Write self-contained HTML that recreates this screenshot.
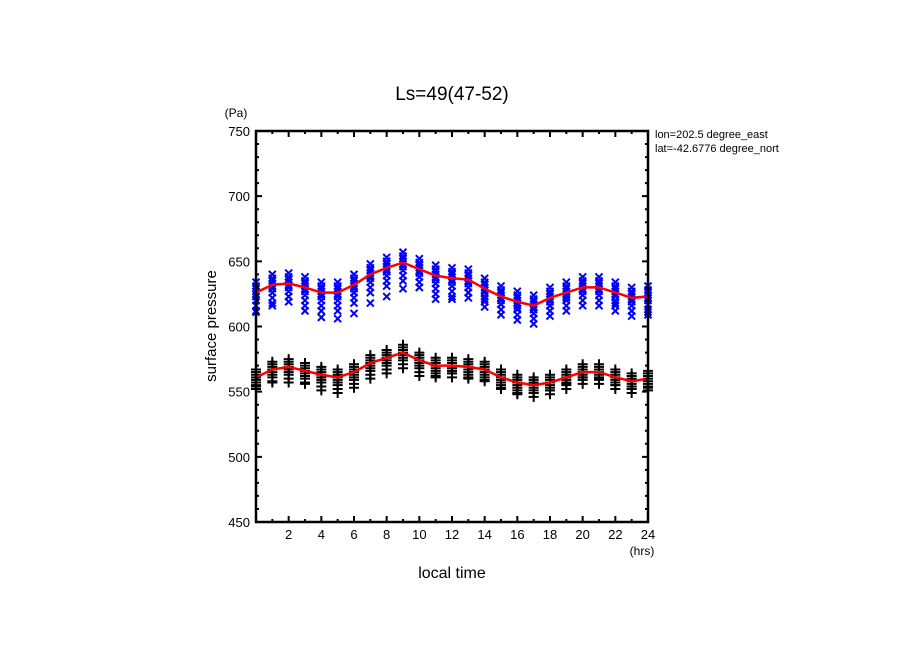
<!DOCTYPE html>
<html><head><meta charset="utf-8"><style>
body{margin:0;background:#fff;}
svg{display:block;font-family:"Liberation Sans",sans-serif;}
</style></head><body>
<svg id="chart" width="904" height="654" viewBox="0 0 904 654">
<defs><clipPath id="annclip"><rect x="650" y="120" width="129" height="40"/></clipPath></defs>
<rect width="904" height="654" fill="#fff"/>
<text x="452" y="100" text-anchor="middle" font-size="19">Ls=49(47-52)</text>
<text x="236" y="117" text-anchor="middle" font-size="12">(Pa)</text>
<text x="642" y="555" text-anchor="middle" font-size="12">(hrs)</text>
<text x="452" y="578" text-anchor="middle" font-size="16">local time</text>
<text transform="translate(216,326) rotate(-90)" text-anchor="middle" font-size="15">surface pressure</text>
<g clip-path="url(#annclip)">
<text x="655" y="138" font-size="11">lon=202.5 degree_east</text>
<text x="655" y="152" font-size="11">lat=-42.6776 degree_north</text>
</g>
<g id="marks"></g>
<g id="axes"></g>
</svg>
<script>
const hours=[0,1,2,3,4,5,6,7,8,9,10,11,12,13,14,15,16,17,18,19,20,21,22,23,24];
const blueMean=[626,632,633,630,626,626,632,640,645,649,644,639,637,636,629,623,619,616,622,626,630,630,626,622,623];
const blackMean=[561,567,569,566,563,561,565,572,576,580,574,570,570,569,567,561,557,555,557,561,565,565,561,558,560];
const blueOffsets=[8,5,3,1,-1,-3,-6,-10,-14];
const blackOffsets=[6,4,2,0,-2,-4,-6,-9];
const blueOutlier=[-15,-16,-10,-18,-19,-20,-22,-22,-22,-20,-14,-18,-16,-10,-8,-6,-5,-6,-6,-4,-6,-6,-8,-10,-12];
const blackOutlier=[-7,-10,-12,-10,-12,-12,-12,-12,-12,-12,-12,-8,-6,-8,-8,-8,-8,-6,-6,-5,-4,-5,-6,-6,-7];
const yTicks=[450,500,550,600,650,700,750];
const xTicks=[2,4,6,8,10,12,14,16,18,20,22,24];
const X0=256,X1=648,Y0=522,Y1=131;
const xs=h=>X0+(h-0)/24*(X1-X0);
const ys=v=>Y0-(v-450)/300*(Y0-Y1);
const NS="http://www.w3.org/2000/svg";
function mk(tag,parent,attrs){const e=document.createElementNS(NS,tag);for(const k in attrs)e.setAttribute(k,attrs[k]);parent.appendChild(e);return e;}
const marks=document.getElementById('marks'),axes=document.getElementById('axes');
hours.forEach((h,i)=>{
  const x=xs(h);
  const bv=blueOffsets.map(o=>blueMean[i]+o).concat([blueMean[i]+blueOutlier[i]]);
  bv.forEach(v=>{const y=ys(v);
    const p=mk('path',marks,{d:`M${x-3.5},${y-3.5}L${x+3.5},${y+3.5}M${x+3.5},${y-3.5}L${x-3.5},${y+3.5}`,stroke:'#0000ff','stroke-width':2,fill:'none'});
    
    });
  const kv=blackOffsets.map(o=>blackMean[i]+o).concat([blackMean[i]+blackOutlier[i]]);
  kv.forEach(v=>{const y=ys(v);
    const p=mk('path',marks,{d:`M${x-5},${y}L${x+5},${y}M${x},${y-5}L${x},${y+5}`,stroke:'#000','stroke-width':2,fill:'none'});
    
    });
});
function curve(arr){return hours.map((h,i)=>(i?'L':'M')+xs(h)+','+ys(arr[i])).join('');}
const l1=mk('path',marks,{d:curve(blueMean),stroke:'#ff0000','stroke-width':2.5,fill:'none','stroke-linejoin':'round'});


const l2=mk('path',marks,{d:curve(blackMean),stroke:'#ff0000','stroke-width':2.5,fill:'none','stroke-linejoin':'round'});


const frame=mk('rect',axes,{x:X0,y:Y1,width:X1-X0,height:Y0-Y1,fill:'none',stroke:'#000','stroke-width':2.5});


let t='';
for(let h=1;h<24;h++){const L=h%2?3:6;const x=xs(h);t+=`M${x},${Y0}v${-L}M${x},${Y1}v${L}`;}
for(let v=460;v<750;v+=10){const L=v%50?3:6;const y=ys(v);t+=`M${X0},${y}h${L}M${X1},${y}h${-L}`;}
const tk=mk('path',axes,{d:t,stroke:'#000','stroke-width':2,fill:'none'});


yTicks.forEach(v=>{const e=mk('text',axes,{x:X0-6,y:ys(v)+5,'text-anchor':'end','font-size':13});e.textContent=v;
  
  });
xTicks.forEach(h=>{const e=mk('text',axes,{x:xs(h),y:Y0+17,'text-anchor':'middle','font-size':13});e.textContent=h;
  
  });
</script>
</body></html>
